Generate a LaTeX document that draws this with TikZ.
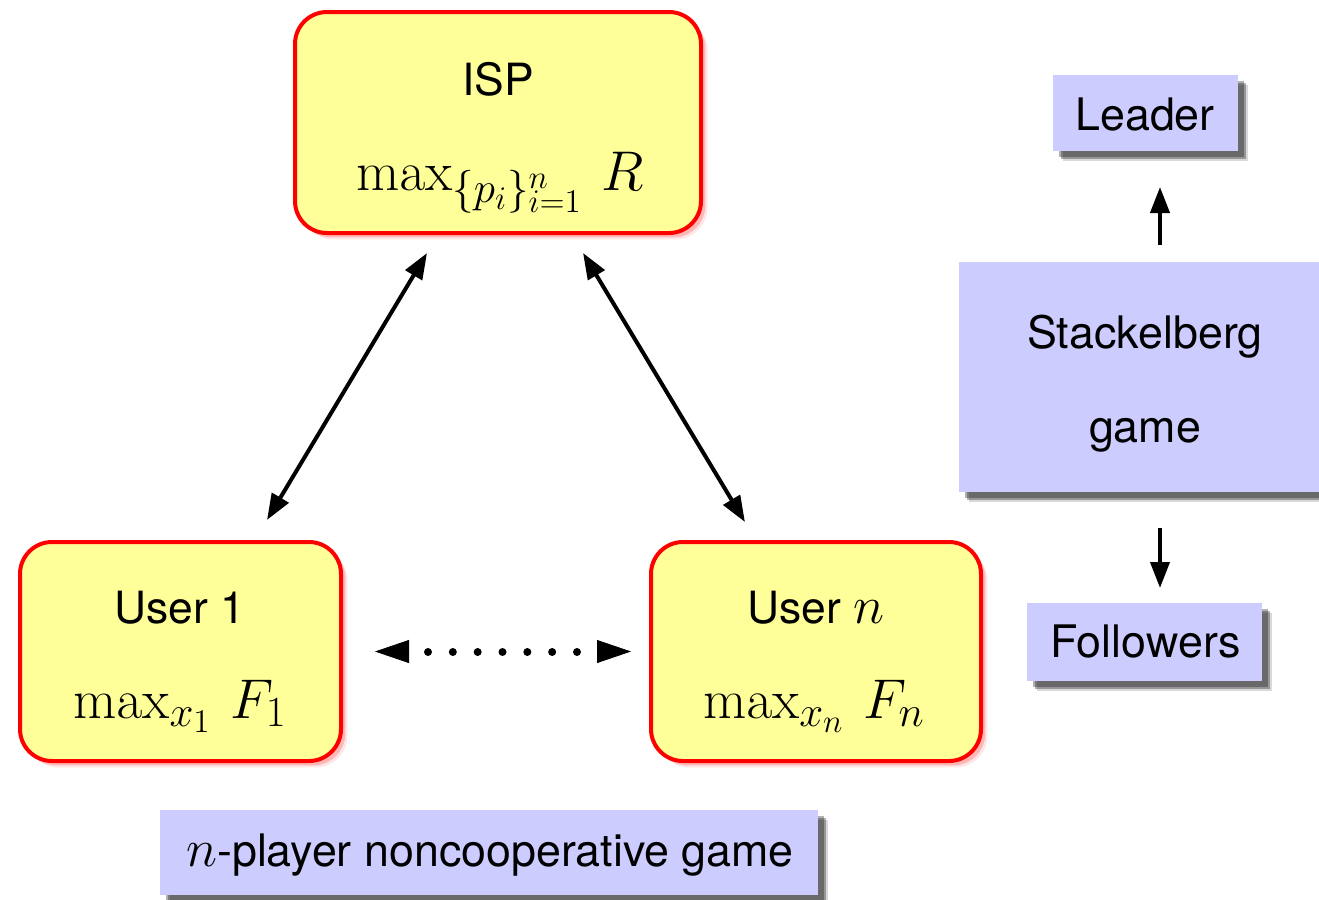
\RequirePackage{fix-cm}
\documentclass[tikz,border=0pt]{standalone}
\usepackage[no-math]{fontspec}
\setmainfont{TeX Gyre Heros}
\usetikzlibrary{arrows.meta,shadows,calc}
\definecolor{boxyellow}{RGB}{255,255,153}
\definecolor{boxblue}{RGB}{204,204,255}
\definecolor{boxred}{RGB}{255,0,0}
\DeclareMathSizes{28}{28}{21.5}{16.5}
\newcommand{\mbig}[1]{{\fontsize{26.5}{30}\selectfont$#1$}}
\tikzset{
  ybox/.style={draw=boxred, line width=2pt, fill=boxyellow, rounded corners=16pt, inner sep=0pt,
    drop shadow={shadow xshift=3.2pt, shadow yshift=-3.2pt, fill=red!40, opacity=0.25},
    drop shadow={shadow xshift=2.2pt, shadow yshift=-2.2pt, fill=red!55, opacity=0.4}},
  bbox/.style={fill=boxblue, draw=none, inner sep=0pt, outer sep=0pt,
    drop shadow={shadow xshift=5pt, shadow yshift=-5pt, fill=black, opacity=0.15},
    drop shadow={shadow xshift=4pt, shadow yshift=-4pt, fill=black, opacity=0.3},
    drop shadow={shadow xshift=3pt, shadow yshift=-3pt, fill=black, opacity=0.3}},
  ytext/.style={font=\fontsize{22.2}{26}\selectfont, inner sep=0pt, anchor=base},
  mtext/.style={font=\fontsize{28}{32}\selectfont, inner sep=0pt, anchor=base},
  btext/.style={font=\fontsize{22.4}{26}\selectfont, inner sep=0pt, anchor=base},
  arr/.style={line width=2pt, -{Triangle[length=13pt,width=9.5pt]}},
  biarr/.style={line width=2pt, {Triangle[length=13pt,width=9.5pt]}-{Triangle[length=13pt,width=9.5pt]}},
  dotarr/.style={{Triangle[length=17pt,width=11.5pt]}-{Triangle[length=17pt,width=11.5pt]}},
  dotline/.style={line width=4pt, line cap=round, dash pattern=on 0pt off 12.417pt},
}
\begin{document}
\begin{tikzpicture}[x=0.5pt,y=-0.5pt]
\useasboundingbox (0,0) rectangle (1319,900);
\clip (0,0) rectangle (1319,900);

% player boxes
\node[ybox, minimum width=203pt, minimum height=110.5pt] (isp) at (498,122.5) {};
\node[ytext] (ispname) at (498,95) {ISP};
\node[mtext] (ispobj) at (500,190) {$\max_{\{p_i\}_{i=1}^n}\,R$};

\node[ybox, minimum width=160.5pt, minimum height=109.5pt] (u1) at (180.5,651.5) {};
\node[ytext] (u1name) at (180,623) {User 1};
\node[mtext] (u1obj) at (180,718) {$\max_{x_1}\,F_1$};

\node[ybox, minimum width=165pt, minimum height=109.5pt] (un) at (816,651.5) {};
\node[ytext] (unname) at (816,623) {User \mbig{n}};
\node[mtext] (unobj) at (814,718) {$\max_{x_n}\,F_n$};

% blue label boxes
\node[bbox, minimum width=92.5pt, minimum height=38pt] (leader) at (1145.5,113) {};
\node[btext] (leadert) at (1145,130) {Leader};

\node[bbox, minimum width=186pt, minimum height=115pt] (stack) at (1145,377) {};
\node[btext] (stackt1) at (1145,348) {Stackelberg};
\node[btext] (stackt2) at (1145,442) {game};

\node[bbox, minimum width=117.5pt, minimum height=39pt] (fol) at (1144.5,642) {};
\node[btext] (folt) at (1145.5,657) {Followers};

\node[bbox, minimum width=329pt, minimum height=42.5pt] (ncg) at (489,852.5) {};
\node[btext] (ncgt) at (490,866) {\mbig{n}-player noncooperative game};

% connectors
\draw[biarr, shorten <=10.5pt, shorten >=11.7pt] ($(isp.south)+(-60.2,0)$) -- ($(u1.north)+(74.5,0)$);
\draw[biarr, shorten <=10.5pt, shorten >=10.5pt] ($(isp.south)+(74.2,0)$) -- ($(un.north)+(-60.2,0)$);

\coordinate (d1) at (428,652);
\coordinate (d2) at (578,652);
\draw[dotline] (d1) -- (d2);
\path[tips, dotarr, shorten <=16pt, shorten >=9pt] (u1.east) -- (un.west);

\coordinate (vx) at (1160,0);
\draw[arr, shorten <=8.5pt, shorten >=18pt] (stack.north -| vx) -- (leader.south -| vx);
\draw[arr, shorten <=18pt, shorten >=7.5pt] (stack.south -| vx) -- (fol.north -| vx);
\end{tikzpicture}
\end{document}
